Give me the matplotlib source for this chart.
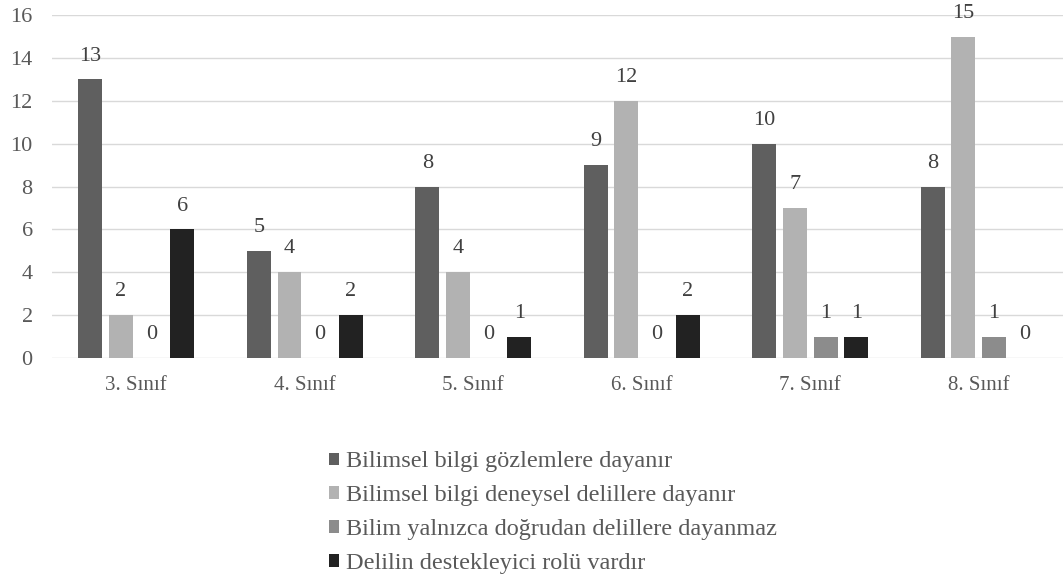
import matplotlib
matplotlib.use("Agg")
import matplotlib.pyplot as plt
import numpy as np
from matplotlib.patches import Patch

plt.rcParams['font.family'] = ['Liberation Serif', 'DejaVu Serif']

categories = ["3. Sınıf", "4. Sınıf", "5. Sınıf", "6. Sınıf", "7. Sınıf", "8. Sınıf"]
series_names = [
    "Bilimsel bilgi gözlemlere dayanır",
    "Bilimsel bilgi deneysel delillere dayanır",
    "Bilim yalnızca doğrudan delillere dayanmaz",
    "Delilin destekleyici rolü vardır",
]
gozlem = [13, 5, 8, 9, 10, 8]
deneysel = [2, 4, 4, 12, 7, 15]
dogrudan = [0, 0, 0, 0, 1, 1]
destek = [6, 2, 1, 2, 1, 0]
series = [gozlem, deneysel, dogrudan, destek]
colors = ["#5f5f5f", "#b2b2b2", "#8c8c8c", "#222222"]
yticks = [0, 2, 4, 6, 8, 10, 12, 14, 16]

fig = plt.figure(figsize=(10.63, 5.85), dpi=100)
ax = fig.add_axes([0.049, 0.388, 0.951, 0.586])

x = np.arange(len(categories))
stride = 0.182
width = 0.142
for i, (vals, col) in enumerate(zip(series, colors)):
    pos = x + (i - 1.5) * stride
    ax.bar(pos, vals, width=width, color=col, zorder=3)
    for px, v in zip(pos, vals):
        ax.annotate(str(v), (px, v), xytext=(0, 10), textcoords="offset points",
                    ha="center", va="bottom", fontsize=16, color="#404040")

ax.set_xlim(-0.5, len(categories) - 0.5)
ax.set_ylim(0, 16)
ax.set_yticks(yticks)
ax.set_xticks(x)
ax.set_xticklabels(categories, fontsize=15, color="#595959")
ax.tick_params(axis="y", labelsize=16, labelcolor="#595959", length=0, pad=14)
ax.tick_params(axis="x", length=0, pad=13)
ax.grid(axis="y", color="#d9d9d9", linewidth=1, zorder=0)
for s in ax.spines.values():
    s.set_visible(False)

handles = [Patch(facecolor=c, edgecolor="none") for c in colors]
fig.legend(handles, series_names, loc="upper left", bbox_to_anchor=(0.298, 0.249),
           frameon=False, fontsize=17.5, labelcolor="#595959",
           handlelength=0.42, handleheight=0.42, handletextpad=0.3,
           labelspacing=0.53, borderpad=0)

fig.savefig("out.png", dpi=100)
